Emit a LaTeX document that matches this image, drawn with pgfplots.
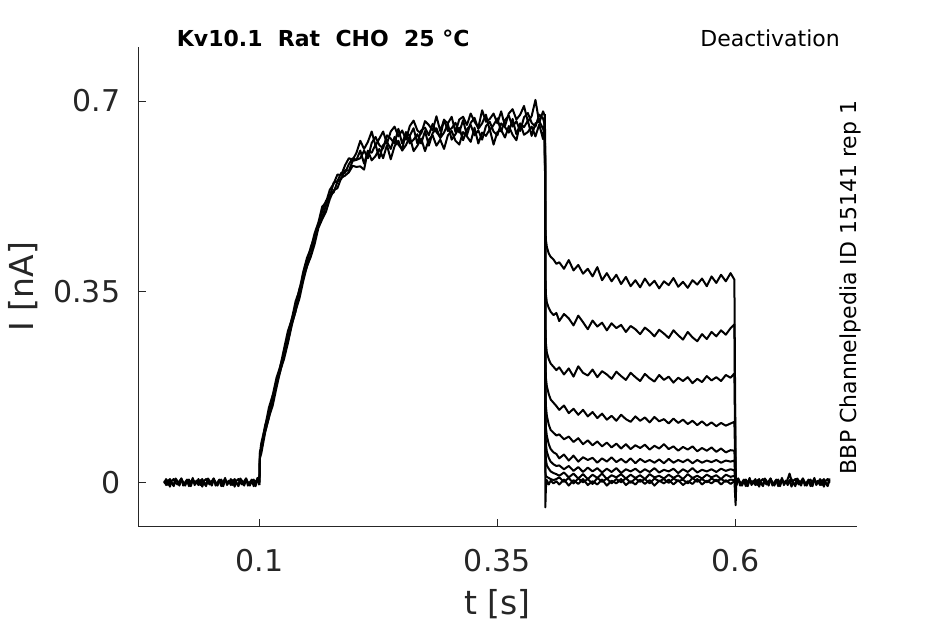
\documentclass[border=0pt]{standalone}
\usepackage{pgfplots}
\usepackage{pgfplotstable}
\pgfplotsset{compat=1.18}
\usepackage{fontspec}
\setmainfont{DejaVu Sans}
\definecolor{axgray}{HTML}{262626}

\pgfplotstableread{
t p1 p2 p3
0.000 0.003 0.001 -0.002
0.002 -0.005 -0.002 0.006
0.004 0.001 0.004 -0.005
0.006 0.006 -0.008 0.003
0.008 -0.002 0.003 -0.001
0.010 -0.007 0.006 -0.004
0.012 0.004 -0.001 0.007
0.014 0.000 -0.004 0.002
0.016 -0.004 0.002 -0.006
0.018 0.007 0.007 0.005
0.020 -0.001 -0.006 0.000
0.022 -0.006 0.000 -0.003
0.024 0.002 0.005 0.004
0.026 0.005 -0.003 -0.007
0.028 -0.003 -0.007 0.001
0.030 0.008 0.004 0.006
0.032 -0.005 0.001 -0.002
0.034 0.001 -0.002 0.003
0.036 -0.002 0.006 -0.005
0.038 0.004 -0.005 0.001
0.040 -0.008 0.003 0.006
0.042 0.003 -0.001 -0.002
0.044 0.006 -0.004 -0.007
0.046 -0.001 0.007 0.004
0.048 -0.004 0.002 0.000
0.050 0.002 -0.006 -0.004
0.052 0.007 0.005 0.007
0.054 -0.006 0.000 -0.001
0.056 0.000 -0.003 -0.006
0.058 0.005 0.004 0.002
0.060 -0.003 -0.007 0.005
0.062 -0.007 0.001 -0.003
0.064 0.004 0.006 0.008
0.066 0.001 -0.002 -0.005
0.068 -0.002 0.003 0.001
0.070 0.006 -0.005 -0.002
0.072 -0.005 0.001 0.004
0.074 0.003 0.006 -0.008
0.076 -0.001 -0.002 0.003
0.078 -0.004 -0.007 0.006
0.080 0.007 0.004 -0.001
0.082 0.002 0.000 -0.004
0.084 -0.006 -0.004 0.002
0.086 0.005 0.007 0.007
0.088 0.000 -0.001 -0.006
0.090 -0.003 -0.006 0.000
0.092 0.004 0.002 0.005
0.094 -0.007 0.005 -0.003
0.096 0.001 -0.003 -0.007
0.098 0.006 0.008 0.004
0.100 -0.002 -0.005 0.001
}\pre

\pgfplotstableread{
t a1 a2 a3 a4
0.1000 -0.002 -0.005 0.001 0.000
0.1005 0.052 0.047 0.056 0.044
0.102 0.072 0.063 0.062 0.053
0.106 0.102 0.104 0.093 0.091
0.110 0.137 0.127 0.118 0.120
0.114 0.160 0.159 0.152 0.141
0.118 0.192 0.179 0.183 0.174
0.122 0.213 0.214 0.204 0.205
0.126 0.246 0.237 0.238 0.227
0.130 0.278 0.269 0.259 0.256
0.134 0.299 0.300 0.291 0.288
0.138 0.332 0.322 0.313 0.315
0.142 0.352 0.355 0.348 0.337
0.146 0.386 0.375 0.376 0.369
0.150 0.412 0.403 0.396 0.397
0.154 0.429 0.432 0.417 0.414
0.158 0.457 0.450 0.451 0.437
0.162 0.477 0.471 0.470 0.467
0.166 0.506 0.497 0.486 0.483
0.170 0.514 0.517 0.508 0.497
0.174 0.537 0.524 0.528 0.520
0.178 0.548 0.550 0.532 0.536
0.182 0.565 0.553 0.552 0.540
0.186 0.564 0.568 0.557 0.559
0.190 0.582 0.568 0.573 0.563
0.194 0.595 0.584 0.572 0.569
0.198 0.592 0.595 0.590 0.581
0.202 0.605 0.592 0.592 0.579
0.206 0.627 0.595 0.609 0.580
0.210 0.612 0.609 0.585 0.574
0.214 0.625 0.595 0.608 0.609
0.218 0.644 0.623 0.605 0.591
0.222 0.618 0.634 0.620 0.599
0.226 0.631 0.619 0.595 0.612
0.230 0.644 0.613 0.619 0.595
0.234 0.622 0.637 0.625 0.619
0.238 0.644 0.631 0.612 0.593
0.242 0.653 0.622 0.634 0.617
0.246 0.635 0.649 0.620 0.627
0.250 0.646 0.622 0.611 0.609
0.254 0.629 0.642 0.643 0.619
0.258 0.654 0.636 0.622 0.635
0.262 0.664 0.650 0.629 0.608
0.266 0.646 0.622 0.639 0.618
0.270 0.640 0.646 0.622 0.631
0.274 0.663 0.651 0.645 0.608
0.278 0.656 0.637 0.618 0.629
0.282 0.646 0.658 0.641 0.637
0.286 0.672 0.643 0.650 0.618
0.290 0.645 0.634 0.632 0.629
0.294 0.665 0.666 0.642 0.612
0.298 0.659 0.645 0.658 0.637
0.302 0.671 0.650 0.629 0.645
0.306 0.643 0.660 0.639 0.627
0.310 0.666 0.642 0.651 0.620
0.314 0.671 0.665 0.628 0.643
0.318 0.656 0.637 0.648 0.635
0.322 0.677 0.660 0.656 0.625
0.326 0.662 0.669 0.637 0.651
0.330 0.651 0.649 0.646 0.622
0.334 0.683 0.659 0.629 0.642
0.338 0.662 0.675 0.654 0.636
0.342 0.667 0.646 0.662 0.648
0.346 0.677 0.656 0.644 0.620
0.350 0.659 0.668 0.637 0.643
0.354 0.681 0.644 0.659 0.647
0.358 0.654 0.665 0.652 0.633
0.362 0.677 0.673 0.642 0.654
0.366 0.685 0.653 0.667 0.638
0.370 0.666 0.663 0.639 0.628
0.374 0.675 0.645 0.658 0.659
0.378 0.691 0.670 0.652 0.638
0.382 0.662 0.678 0.664 0.643
0.386 0.672 0.660 0.636 0.653
0.390 0.702 0.653 0.659 0.635
0.394 0.660 0.675 0.663 0.657
0.398 0.681 0.668 0.649 0.630
0.400 0.672 0.655 0.640 0.668
}\act

\pgfplotstableread{
t d1 d2 d3 d4 d5 d6 d7 d8 d9 d10
0.4000 0.672 0.655 0.640 0.668 0.650 0.662 0.645 0.676 0.660 0.652
0.4004 0.470 0.380 0.290 0.225 0.170 0.130 0.095 0.060 0.020 -0.046
0.4010 0.445 0.345 0.255 0.192 0.140 0.100 0.070 0.042 0.012 -0.010
0.4020 0.432 0.330 0.238 0.176 0.122 0.085 0.056 0.031 0.010 0.004
0.4040 0.420 0.320 0.226 0.162 0.106 0.070 0.045 0.025 0.008 -0.004
0.4060 0.414 0.313 0.218 0.152 0.096 0.061 0.038 0.020 0.006 0.003
0.4090 0.409 0.307 0.212 0.146 0.091 0.055 0.033 0.017 0.004 -0.002
0.4120 0.401 0.311 0.206 0.140 0.086 0.052 0.030 0.015 0.006 0.002
0.415 0.404 0.296 0.211 0.133 0.088 0.044 0.031 0.012 0.009 -0.004
0.420 0.392 0.309 0.198 0.141 0.079 0.051 0.024 0.018 0.001 0.005
0.425 0.408 0.301 0.209 0.127 0.084 0.040 0.030 0.009 0.008 -0.006
0.430 0.389 0.288 0.194 0.135 0.074 0.049 0.021 0.016 -0.002 0.004
0.435 0.399 0.306 0.213 0.124 0.081 0.038 0.028 0.007 0.007 -0.003
0.440 0.383 0.294 0.201 0.133 0.070 0.046 0.019 0.015 0.000 0.006
0.445 0.392 0.281 0.196 0.121 0.077 0.041 0.027 0.006 0.006 -0.005
0.450 0.378 0.297 0.207 0.129 0.068 0.045 0.020 0.014 -0.003 0.002
0.455 0.395 0.286 0.193 0.118 0.075 0.036 0.026 0.008 0.008 -0.004
0.460 0.371 0.293 0.204 0.126 0.066 0.044 0.018 0.016 0.001 0.005
0.465 0.384 0.279 0.198 0.115 0.073 0.038 0.025 0.006 0.007 -0.006
0.470 0.369 0.292 0.190 0.122 0.064 0.046 0.019 0.013 -0.002 0.003
0.475 0.381 0.283 0.203 0.113 0.071 0.037 0.026 0.009 0.006 -0.002
0.480 0.364 0.289 0.195 0.124 0.062 0.043 0.017 0.015 0.000 0.006
0.485 0.377 0.276 0.188 0.116 0.070 0.036 0.024 0.007 0.008 -0.005
0.490 0.360 0.287 0.201 0.111 0.061 0.044 0.020 0.014 -0.001 0.002
0.495 0.371 0.281 0.193 0.121 0.068 0.035 0.025 0.008 0.007 -0.004
0.500 0.358 0.272 0.186 0.113 0.063 0.043 0.018 0.013 0.001 0.005
0.505 0.374 0.284 0.199 0.119 0.069 0.037 0.024 0.006 0.006 -0.003
0.510 0.361 0.277 0.191 0.110 0.060 0.041 0.019 0.015 -0.002 0.004
0.515 0.370 0.268 0.185 0.120 0.067 0.036 0.026 0.009 0.007 -0.006
0.520 0.356 0.280 0.197 0.112 0.062 0.042 0.018 0.012 0.002 0.003
0.525 0.369 0.273 0.188 0.116 0.070 0.035 0.023 0.007 0.006 -0.002
0.530 0.362 0.265 0.194 0.108 0.061 0.043 0.020 0.014 -0.001 0.005
0.535 0.375 0.279 0.183 0.117 0.066 0.036 0.025 0.008 0.007 -0.004
0.540 0.359 0.270 0.192 0.109 0.058 0.041 0.017 0.013 0.002 0.004
0.545 0.368 0.262 0.186 0.115 0.065 0.037 0.024 0.006 0.005 -0.005
0.550 0.357 0.276 0.193 0.107 0.060 0.042 0.019 0.015 -0.002 0.002
0.555 0.371 0.266 0.182 0.113 0.066 0.035 0.026 0.008 0.008 -0.003
0.560 0.363 0.259 0.190 0.105 0.057 0.041 0.018 0.012 0.001 0.006
0.565 0.374 0.272 0.184 0.112 0.063 0.036 0.023 0.007 0.006 -0.004
0.570 0.360 0.263 0.195 0.104 0.058 0.040 0.020 0.014 0.000 0.003
0.575 0.378 0.276 0.187 0.110 0.064 0.037 0.024 0.009 0.007 -0.002
0.580 0.366 0.268 0.193 0.103 0.056 0.041 0.019 0.013 0.002 0.005
0.585 0.381 0.279 0.186 0.109 0.062 0.036 0.025 0.006 0.006 -0.004
0.590 0.369 0.271 0.197 0.104 0.055 0.040 0.021 0.014 0.001 0.004
0.595 0.384 0.283 0.192 0.108 0.059 0.038 0.024 0.010 0.005 -0.003
0.5990 0.372 0.290 0.200 0.111 0.058 0.040 0.022 0.012 0.004 0.002
0.6003 0.010 -0.004 0.003 0.006 -0.010 0.001 -0.003 0.005 -0.042 0.000
0.6010 -0.004 0.002 -0.006 0.003 0.002 -0.005 0.004 -0.002 0.001 -0.003
}\deact

\pgfplotstableread{
t q1 q2 q3
0.601 -0.004 0.002 -0.006
0.603 0.007 0.007 0.005
0.605 -0.001 -0.006 0.000
0.607 -0.006 0.000 -0.003
0.609 0.002 0.005 0.004
0.611 0.005 -0.003 -0.007
0.613 -0.003 -0.007 0.001
0.615 0.008 0.004 0.006
0.617 -0.005 0.001 -0.002
0.619 0.001 -0.002 0.003
0.621 -0.002 0.006 -0.005
0.623 0.004 -0.005 0.001
0.625 -0.008 0.003 0.006
0.627 0.003 -0.001 -0.002
0.629 0.006 -0.004 -0.007
0.631 -0.001 0.007 0.004
0.633 -0.004 0.002 0.000
0.635 0.002 -0.006 -0.004
0.637 0.007 0.005 0.007
0.639 -0.006 0.000 -0.001
0.641 0.000 -0.003 -0.006
0.643 0.005 0.004 0.002
0.645 -0.003 -0.007 0.005
0.647 -0.007 0.001 -0.003
0.649 0.004 0.006 0.008
0.651 0.001 -0.002 -0.005
0.653 -0.002 0.003 0.001
0.655 0.006 -0.005 -0.002
0.657 0.016 0.001 0.004
0.659 0.003 0.006 -0.008
0.661 -0.001 -0.002 0.003
0.663 -0.004 -0.007 0.006
0.665 0.007 0.004 -0.001
0.667 0.002 0.000 -0.004
0.669 -0.006 -0.004 0.002
0.671 0.005 0.007 0.007
0.673 0.000 -0.001 -0.006
0.675 -0.003 -0.006 0.000
0.677 0.004 0.002 0.005
0.679 -0.007 0.005 -0.003
0.681 0.001 -0.003 -0.007
0.683 0.006 0.008 0.004
0.685 -0.002 -0.005 0.001
0.687 0.003 0.001 -0.002
0.689 -0.005 -0.002 0.006
0.691 0.001 0.004 -0.005
0.693 0.006 -0.008 0.003
0.695 -0.002 0.003 -0.001
0.697 -0.007 0.006 -0.004
0.699 0.004 -0.001 0.007
}\post

\pgfplotsset{tr/.style={black, line width=2pt, line join=round, mark=none, solid}}

\begin{document}
\begin{tikzpicture}
\path[use as bounding box] (-138.3pt,-97.3pt) rectangle (806.7pt,526.7pt);
\begin{axis}[
  at={(0pt,0pt)}, anchor=south west,
  scale only axis, width=718.4pt, height=480pt,
  xmin=-0.0272, xmax=0.7275, ymin=-0.0815, ymax=0.7997,
  clip=false,
  axis x line*=bottom, axis y line*=left,
  axis line style={color=axgray, line width=0.8pt},
  xtick={0.1,0.35,0.6}, xticklabels={0.1,0.35,0.6},
  ytick={0,0.35,0.7}, yticklabels={0,0.35,0.7},
  tick align=inside, major tick length=8pt,
  tick style={color=axgray, line width=0.8pt},
  ticklabel style={font=\fontsize{30}{36}\selectfont, text=axgray},
  xticklabel style={anchor=north, inner sep=0pt, yshift=-22pt},
  yticklabel style={anchor=east, inner sep=0pt, xshift=-18pt},
  xlabel={t [s]}, ylabel={I [nA]},
  label style={font=\fontsize{33}{40}\selectfont, text=axgray},
  xlabel style={at={(axis description cs:0.5,-0.1604)}, anchor=center, inner sep=0pt},
  ylabel style={at={(axis description cs:-0.160,0.5)}, anchor=center, inner sep=0pt},
]
\addplot[tr] table[x=t,y=p1]{\pre};
\addplot[tr] table[x=t,y=p2]{\pre};
\addplot[tr] table[x=t,y=p3]{\pre};
\addplot[tr] table[x=t,y=a1]{\act};
\addplot[tr] table[x=t,y=a2]{\act};
\addplot[tr] table[x=t,y=a3]{\act};
\addplot[tr] table[x=t,y=a4]{\act};
\addplot[tr] table[x=t,y=d1]{\deact};
\addplot[tr] table[x=t,y=d2]{\deact};
\addplot[tr] table[x=t,y=d3]{\deact};
\addplot[tr] table[x=t,y=d4]{\deact};
\addplot[tr] table[x=t,y=d5]{\deact};
\addplot[tr] table[x=t,y=d6]{\deact};
\addplot[tr] table[x=t,y=d7]{\deact};
\addplot[tr] table[x=t,y=d8]{\deact};
\addplot[tr] table[x=t,y=d9]{\deact};
\addplot[tr] table[x=t,y=d10]{\deact};
\addplot[tr] table[x=t,y=q1]{\post};
\addplot[tr] table[x=t,y=q2]{\post};
\addplot[tr] table[x=t,y=q3]{\post};
\node[anchor=base west, inner sep=0pt, font=\fontsize{22}{26}\selectfont\bfseries] at (axis description cs:0.0535,1) {Kv10.1\ \ Rat\ \ CHO\ \ 25 °C};
\node[anchor=base east, inner sep=0pt, font=\fontsize{22}{26}\selectfont] at (axis description cs:0.9768,1) {Deactivation};
\node[rotate=90, anchor=base, inner sep=0pt, font=\fontsize{22}{26}\selectfont] at (axis description cs:1,0.4983) {BBP Channelpedia ID 15141 rep 1};
\end{axis}
\end{tikzpicture}
\end{document}
